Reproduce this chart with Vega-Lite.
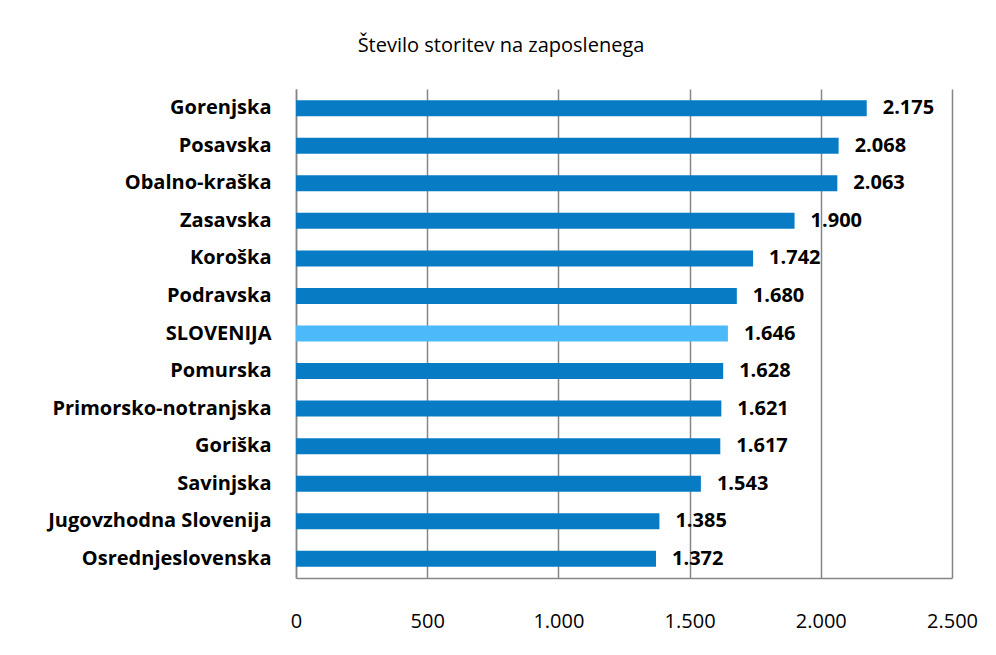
{
  "$schema": "https://vega.github.io/schema/vega-lite/v6.json",
  "autosize": "none",
  "width": 656,
  "height": 489,
  "padding": {"left": 296, "top": 89, "right": 44, "bottom": 77},
  "background": "white",
  "config": {
    "locale": {"number": {"decimal": ",", "thousands": ".", "grouping": [3], "currency": ["", " €"]}},
    "view": {"stroke": null},
    "font": "Open Sans"
  },
  "title": {
    "text": "Število storitev na zaposlenega",
    "fontSize": 20,
    "fontWeight": "normal",
    "color": "black",
    "font": "Open Sans",
    "anchor": "middle",
    "dx": -123,
    "offset": 33
  },
  "data": {
    "values": [
      {"regija": "Gorenjska", "vrednost": 2175},
      {"regija": "Posavska", "vrednost": 2068},
      {"regija": "Obalno-kraška", "vrednost": 2063},
      {"regija": "Zasavska", "vrednost": 1900},
      {"regija": "Koroška", "vrednost": 1742},
      {"regija": "Podravska", "vrednost": 1680},
      {"regija": "SLOVENIJA", "vrednost": 1646},
      {"regija": "Pomurska", "vrednost": 1628},
      {"regija": "Primorsko-notranjska", "vrednost": 1621},
      {"regija": "Goriška", "vrednost": 1617},
      {"regija": "Savinjska", "vrednost": 1543},
      {"regija": "Jugovzhodna  Slovenija", "vrednost": 1385},
      {"regija": "Osrednjeslovenska", "vrednost": 1372}
    ]
  },
  "encoding": {
    "y": {
      "field": "regija",
      "type": "nominal",
      "sort": null,
      "scale": {"paddingInner": 0.58, "paddingOuter": 0.3},
      "axis": {
        "title": null,
        "ticks": false,
        "domainColor": "#868686",
        "domainWidth": 1.5,
        "labelFont": "Open Sans",
        "labelFontSize": 20,
        "labelFontWeight": "bold",
        "labelColor": "black",
        "labelPadding": 25,
        "labelLimit": 300
      }
    },
    "x": {
      "field": "vrednost",
      "type": "quantitative",
      "scale": {"domain": [0, 2500], "nice": false},
      "axis": {
        "title": null,
        "values": [0, 500, 1000, 1500, 2000, 2500],
        "format": ",d",
        "ticks": false,
        "grid": true,
        "gridColor": "#868686",
        "gridWidth": 1.5,
        "domainColor": "#868686",
        "domainWidth": 1.5,
        "labelFont": "Open Sans",
        "labelFontSize": 20,
        "labelColor": "black",
        "labelPadding": 33,
        "labelFlush": false
      }
    }
  },
  "layer": [
    {
      "mark": {"type": "bar", "size": 16},
      "encoding": {
        "color": {
          "condition": {"test": "datum.regija === 'SLOVENIJA'", "value": "#4CB9FA"},
          "value": "#077CC4"
        }
      }
    },
    {
      "mark": {"type": "text", "align": "left", "dx": 16, "fontSize": 20, "fontWeight": "bold", "color": "black", "font": "Open Sans"},
      "encoding": {
        "text": {"field": "vrednost", "type": "quantitative", "format": ",d"}
      }
    }
  ]
}
